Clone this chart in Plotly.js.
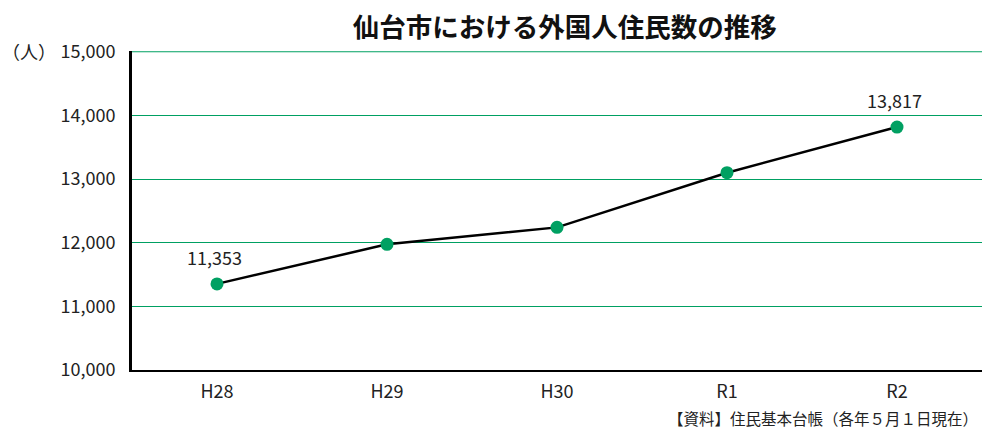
<!DOCTYPE html>
<html>
<head>
<meta charset="utf-8">
<script src="https://cdn.plot.ly/plotly-3.0.1.min.js"></script>
<style>html,body{margin:0;padding:0;background:#fff;}#chart{width:982px;height:432px;}</style>
</head>
<body>
<div id="chart"></div>
<script>
const categories = ['H28', 'H29', 'H30', 'R1', 'R2'];
const residents = [11353, 11975, 12241, 13100, 13817];
const labelIndices = [0, 4];
const yTicks = [10000, 11000, 12000, 13000, 14000, 15000];

const JP = '"Noto Sans CJK JP", "Noto Sans", sans-serif';
const green = '#00a062';

const trace = {
  x: categories,
  y: residents,
  type: 'scatter',
  mode: 'lines+markers',
  line: {color: '#000', width: 2.5},
  marker: {color: green, size: 13},
  hoverinfo: 'skip'
};

const annotations = labelIndices.map(i => ({
  x: categories[i], y: residents[i], xref: 'x', yref: 'y',
  text: residents[i].toLocaleString('en-US'),
  showarrow: false, yshift: 27, xshift: -3,
  font: {family: JP, size: 18, color: '#222'}
}));
annotations.push({
  xref: 'paper', yref: 'paper', x: -0.155, y: 1.0, xanchor: 'left', yanchor: 'middle',
  text: '（人）', showarrow: false, font: {family: JP, size: 18, color: '#222'}
});
annotations.push({
  xref: 'paper', yref: 'paper', x: 0.997, y: -0.152, xanchor: 'right', yanchor: 'middle',
  text: '【資料】住民基本台帳（各年５月１日現在）', showarrow: false,
  font: {family: JP, size: 15.5, color: '#222'}, borderpad: 0
});

const topTick = yTicks[yTicks.length - 1];
const shapes = [{
  type: 'line', xref: 'paper', yref: 'y', x0: 0, x1: 1, y0: topTick, y1: topTick,
  line: {color: green, width: 1}, layer: 'below'
}];

const layout = {
  width: 982, height: 432,
  margin: {l: 132, r: 0, t: 51, b: 62, pad: 0},
  paper_bgcolor: '#fff', plot_bgcolor: '#fff',
  showlegend: false,
  title: {
    text: '<b>仙台市における外国人住民数の推移</b>',
    font: {family: JP, size: 26.5, color: '#111'},
    x: 0.575, xanchor: 'center', y: 0.935, yanchor: 'middle'
  },
  xaxis: {
    type: 'category', range: [-0.5, 4.5],
    showgrid: false, zeroline: false,
    showline: true, linecolor: '#000', linewidth: 2,
    ticks: '', ticklen: 0, ticklabelstandoff: 4,
    tickfont: {family: JP, size: 18, color: '#222'}
  },
  yaxis: {
    range: [10000, 15012], tickvals: yTicks,
    ticktext: yTicks.map(v => v.toLocaleString('en-US')),
    showgrid: true, gridcolor: green, gridwidth: 1,
    zeroline: false, showline: true, linecolor: '#000', linewidth: 3,
    ticks: '', ticklabelstandoff: 10,
    tickfont: {family: JP, size: 18, color: '#222'}
  },
  shapes: shapes,
  annotations: annotations
};

Plotly.newPlot('chart', [trace], layout, {displayModeBar: false, staticPlot: true});
</script>
</body>
</html>
